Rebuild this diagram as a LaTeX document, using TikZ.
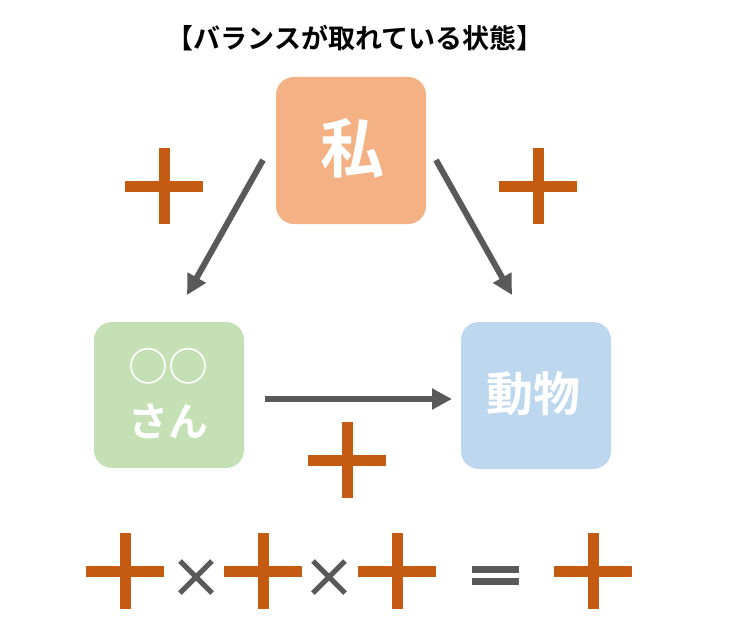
\documentclass[tikz,border=0pt]{standalone}
\usepackage{fontspec}
\newfontfamily\jpb{Noto Sans CJK JP Bold}
\usetikzlibrary{arrows.meta}
\definecolor{boxme}{HTML}{F4B183}
\definecolor{boxfriend}{HTML}{C5E0B4}
\definecolor{boxanimal}{HTML}{BDD7EE}
\definecolor{plusc}{HTML}{C55A11}
\definecolor{grayc}{HTML}{595959}
\tikzset{
  box/.style={rounded corners=18pt, draw=none},
  boxtext/.style={text=white, font=\jpb, align=center},
  conn/.style={draw=grayc, line width=6pt, -{Triangle[length=20pt,width=20pt]}},
  plussign/.pic={
    \fill[plusc] (-39,-5.5) rectangle (39,5.5);
    \fill[plusc] (-5.5,-38) rectangle (5.5,38);
  },
  timessign/.pic={
    \draw[grayc, line width=5pt] (-16,-16) -- (16,16) (-16,16) -- (16,-16);
  },
  equalsign/.pic={
    \fill[grayc] (-23.5,-9.5) rectangle (23.5,-2.5);
    \fill[grayc] (-23.5,2.5) rectangle (23.5,9.5);
  }
}
\begin{document}
\begin{tikzpicture}[x=1pt,y=-1pt]
\useasboundingbox (0,0) rectangle (731,634);
\node[font=\jpb\fontsize{27}{32}\selectfont] (title) at (355,38) {【バランスが取れている状態】};
% boxes
\fill[boxme, box] (276,77) rectangle (426,224);
\fill[boxfriend, box] (94,322) rectangle (244,468);
\fill[boxanimal, box] (461,322) rectangle (611,469);
\node[boxtext, font=\jpb\fontsize{64}{70}\selectfont] (me) at (352,148) {私};
\node[boxtext, font=\jpb\fontsize{40}{55}\selectfont] (friend) at (168,394) {○○\\さん};
\node[boxtext, font=\jpb\fontsize{47}{55}\selectfont] (animal) at (533,394) {動物};
% connectors
\coordinate (m1) at (263,160);
\coordinate (f1) at (187,295);
\coordinate (m2) at (436,160);
\coordinate (a1) at (512,295);
\coordinate (f2) at (265,399);
\coordinate (a2) at (452,399);
\draw[conn] (m1) -- (f1);
\draw[conn] (m2) -- (a1);
\draw[conn] (f2) -- (a2);
% plus signs
\pic at (164,186) {plussign};
\pic at (538,186) {plussign};
\pic at (347,460) {plussign};
\pic at (125,571) {plussign};
\pic at (263,571) {plussign};
\pic at (397,571) {plussign};
\pic at (593,571) {plussign};
\pic at (196,577) {timessign};
\pic at (329,577) {timessign};
\pic at (495,575) {equalsign};
\end{tikzpicture}
\end{document}
